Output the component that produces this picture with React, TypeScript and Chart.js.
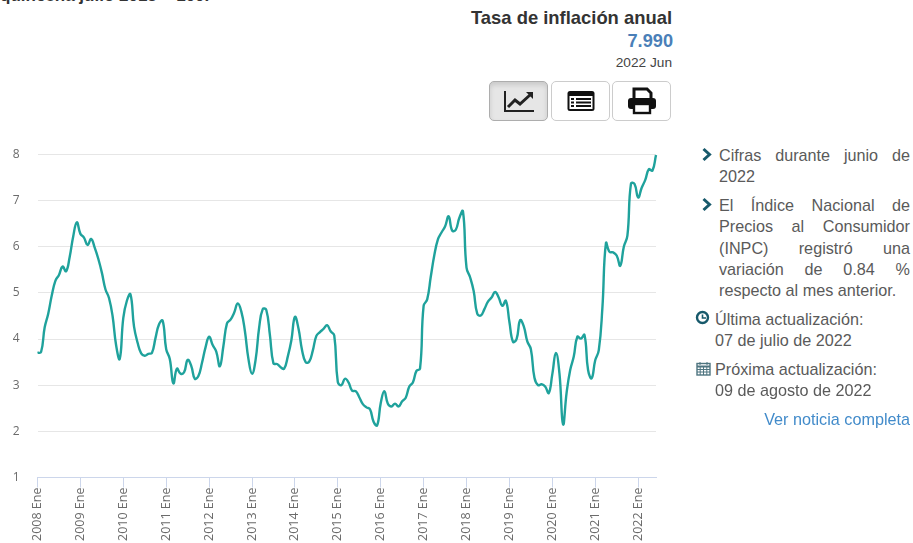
import React, { useEffect, useRef } from "react";
import { Chart, registerables } from "chart.js";

Chart.register(...registerables);

const years = [2008, 2009, 2010, 2011, 2012, 2013, 2014, 2015, 2016, 2017, 2018, 2019, 2020, 2021, 2022];
const y2008 = [3.7, 3.72, 4.25, 4.55, 4.95, 5.26, 5.39, 5.57, 5.47, 5.78, 6.23, 6.53];
const y2009 = [6.28, 6.2, 6.04, 6.17, 5.98, 5.74, 5.44, 5.08, 4.89, 4.5, 3.86, 3.57];
const y2010 = [4.46, 4.83, 4.97, 4.27, 3.92, 3.69, 3.64, 3.68, 3.7, 4.02, 4.32, 4.4];
const y2011 = [3.78, 3.57, 3.04, 3.36, 3.25, 3.28, 3.55, 3.42, 3.14, 3.2, 3.48, 3.82];
const y2012 = [4.05, 3.87, 3.73, 3.41, 3.85, 4.34, 4.42, 4.57, 4.77, 4.6, 4.18, 3.57];
const y2013 = [3.25, 3.55, 4.25, 4.65, 4.63, 4.09, 3.47, 3.46, 3.39, 3.36, 3.62, 3.97];
const y2014 = [4.48, 4.23, 3.76, 3.5, 3.51, 3.75, 4.07, 4.15, 4.22, 4.3, 4.17, 4.08];
const y2015 = [3.07, 3.0, 3.14, 3.06, 2.88, 2.87, 2.74, 2.59, 2.52, 2.48, 2.21, 2.13];
const y2016 = [2.61, 2.87, 2.6, 2.54, 2.6, 2.54, 2.65, 2.73, 2.97, 3.06, 3.31, 3.36];
const y2017 = [4.72, 4.86, 5.35, 5.82, 6.16, 6.31, 6.44, 6.66, 6.35, 6.37, 6.63, 6.77];
const y2018 = [5.55, 5.34, 5.04, 4.55, 4.51, 4.65, 4.81, 4.9, 5.02, 4.9, 4.72, 4.83];
const y2019 = [4.37, 3.94, 4.0, 4.41, 4.28, 3.95, 3.78, 3.16, 3.0, 3.02, 2.97, 2.83];
const y2020 = [3.24, 3.7, 3.25, 2.15, 2.84, 3.33, 3.62, 4.05, 4.01, 4.09, 3.33, 3.15];
const y2021 = [3.54, 3.76, 4.67, 6.08, 5.89, 5.88, 5.81, 5.59, 6.0, 6.24, 7.37, 7.36];
const y2022 = [7.07, 7.28, 7.45, 7.68, 7.65, 7.99];

const values = [
  ...y2008, ...y2009, ...y2010, ...y2011, ...y2012, ...y2013, ...y2014, ...y2015,
  ...y2016, ...y2017, ...y2018, ...y2019, ...y2020, ...y2021, ...y2022,
];
const months = ["Ene", "Feb", "Mar", "Abr", "May", "Jun", "Jul", "Ago", "Sep", "Oct", "Nov", "Dic"];
const labels = values.map((_, i) => `${years[Math.floor(i / 12)]} ${months[i % 12]}`);

const FONT = '"Liberation Sans", Arial, sans-serif';
const TEXT = "#5a5a5a";
const TEAL = "#1fa29c";

const abs = (left: number, top: number, extra: React.CSSProperties = {}): React.CSSProperties => ({
  position: "absolute",
  left,
  top,
  ...extra,
});

function Chevron({ x, y }: { x: number; y: number }) {
  return (
    <svg style={abs(x, y)} width="12" height="15" viewBox="0 0 12 15">
      <path d="M2.5 2 L8.5 7.5 L2.5 13" fill="none" stroke="#17596b" strokeWidth="3" />
    </svg>
  );
}

function Para({ top, lines, left = 719, width = 191, justify = true }: { top: number; lines: string[]; left?: number; width?: number; justify?: boolean }) {
  return (
    <>
      {lines.map((l, i) => {
        const j = justify && i < lines.length - 1;
        return (
          <div
            key={i}
            style={abs(left, top + i * 21.3, {
              width,
              font: `16.2px ${FONT}`,
              color: TEXT,
              lineHeight: "20px",
              textAlign: j ? "justify" : "left",
              textAlignLast: j ? "justify" : "left",
              whiteSpace: j ? "normal" : "nowrap",
            })}
          >
            {l}
          </div>
        );
      })}
    </>
  );
}

function Btn({ left, active, children }: { left: number; active?: boolean; children: React.ReactNode }) {
  return (
    <div
      style={abs(left, 81, {
        width: 59,
        height: 40,
        boxSizing: "border-box",
        border: `1px solid ${active ? "#adadad" : "#cccccc"}`,
        borderRadius: 5,
        background: active ? "#e6e6e6" : "#ffffff",
        boxShadow: active ? "inset 0 3px 5px rgba(0,0,0,.125)" : "none",
        display: "flex",
        alignItems: "center",
        justifyContent: "center",
      })}
    >
      {children}
    </div>
  );
}

export default function App() {
  const ref = useRef<HTMLCanvasElement>(null);
  useEffect(() => {
    const chart = new Chart(ref.current!, {
      type: "line",
      data: {
        labels,
        datasets: [
          {
            data: values,
            borderColor: TEAL,
            borderWidth: 2.4,
            pointRadius: 0,
            tension: 0.45,
            fill: false,
            clip: false,
          },
        ],
      },
      options: {
        animation: false,
        responsive: false,
        layout: { padding: { top: 14.5, right: 14, left: 0, bottom: 0 } },
        plugins: { legend: { display: false }, tooltip: { enabled: false } },
        scales: {
          x: {
            type: "category",
            afterBuildTicks: (axis: any) => {
              axis.ticks = axis.ticks.filter((t: any) => t.value % 12 === 0);
            },
            afterFit: (axis: any) => {
              axis.height = 65.5;
            },
            grid: {
              display: true,
              drawOnChartArea: false,
              drawTicks: true,
              tickLength: 10,
              color: "#ccd6eb",
              lineWidth: 1,
            },
            border: { display: true, color: "#ccd6eb", width: 1 },
            ticks: {
              autoSkip: false,
              minRotation: 90,
              maxRotation: 90,
              padding: 0,
              color: "#6b6b6b",
              font: { family: '"Open Sans"', size: 12.5 },
            },
          },
          y: {
            min: 1,
            max: 8,
            afterFit: (axis: any) => {
              axis.width = 37.5;
              axis.paddingTop = 0;
              axis.paddingBottom = 0;
            },
            grid: { color: (c: any) => (c.tick.value === 1 ? "rgba(0,0,0,0)" : "#e6e6e6"), lineWidth: 1, drawTicks: false },
            border: { display: false },
            ticks: {
              stepSize: 1,
              padding: 18,
              color: "#6b6b6b",
              font: { family: '"Open Sans"', size: 12 },
              callback: (v: any) => String(v),
            },
          },
        },
      },
    });
    return () => chart.destroy();
  }, []);

  return (
    <div style={{ position: "fixed", inset: 0, overflow: "hidden", background: "#fff" }}>
      <div style={abs(0, -14, { font: `bold 17px ${FONT}`, color: "#333", whiteSpace: "nowrap" })}>
        quincena julio 2018 = 100.
      </div>

      <div style={abs(372, 8, { width: 300, textAlign: "right", font: `bold 18.4px ${FONT}`, lineHeight: "20px", color: "#333" })}>
        Tasa de inflación anual
      </div>
      <div style={abs(372, 31, { width: 301, textAlign: "right", font: `bold 18.2px ${FONT}`, lineHeight: "20px", color: "#4a7fb8" })}>
        7.990
      </div>
      <div style={abs(372, 53, { width: 300, textAlign: "right", font: `13.7px ${FONT}`, lineHeight: "20px", color: "#444" })}>
        2022 Jun
      </div>

      <Btn left={489} active>
        <svg width="32" height="24" viewBox="0 0 32 24">
          <path d="M2 2 V22 H31" fill="none" stroke="#222" strokeWidth="2" />
          <path d="M5 18 L12 11 L17 15 L27 6" fill="none" stroke="#222" strokeWidth="3" />
          <path d="M23 3 H30 V10 Z" fill="#222" />
        </svg>
      </Btn>
      <Btn left={551}>
        <svg width="28" height="22" viewBox="0 0 28 22">
          <rect x="0.5" y="1" width="27" height="20" rx="2.5" fill="#111" />
          <rect x="2.5" y="6" width="23" height="13" fill="#fff" />
          <path d="M4 9 H7 M9 9 H24 M4 12.5 H7 M9 12.5 H24 M4 16 H7 M9 16 H24" stroke="#111" strokeWidth="2" />
        </svg>
      </Btn>
      <Btn left={612}>
        <svg width="30" height="28" viewBox="0 0 30 28">
          <path d="M7 12 V2 H20 L24 6 V12" fill="#fff" stroke="#111" strokeWidth="3" />
          <rect x="1" y="11" width="28" height="11" rx="3" fill="#111" />
          <rect x="7" y="17" width="16" height="9" fill="#fff" stroke="#111" strokeWidth="2.4" />
        </svg>
      </Btn>

      <canvas ref={ref} width={670} height={403} style={abs(0, 140, { display: "block" })} />

      <Chevron x={701} y={147} />
      <Para top={145} lines={["Cifras durante junio de", "2022"]} />
      <Chevron x={701} y={197} />
      <Para
        top={195}
        lines={["El Índice Nacional de", "Precios al Consumidor", "(INPC) registró una", "variación de 0.84 %", "respecto al mes anterior."]}
      />
      <svg style={abs(694.5, 309.5)} width="15" height="15" viewBox="0 0 15 15">
        <circle cx="7.5" cy="7.5" r="5.5" fill="none" stroke="#17596b" strokeWidth="2.4" />
        <path d="M7.5 4.5 V8 H11" fill="none" stroke="#17596b" strokeWidth="1.6" />
      </svg>
      <Para top={309} left={715} width={190} justify={false} lines={["Última actualización:", "07 de julio de 2022"]} />
      <svg style={abs(696, 361)} width="15" height="15" viewBox="0 0 15 15">
        <rect x="1" y="2.5" width="13" height="11.5" fill="none" stroke="#4f7580" strokeWidth="1.4" />
        <path d="M1 5.5 H14" stroke="#4f7580" strokeWidth="2" />
        <path d="M4 1 V4 M11 1 V4 M1 8.5 H14 M1 11 H14 M4.2 6 V14 M7.5 6 V14 M10.8 6 V14" stroke="#4f7580" strokeWidth="1" />
      </svg>
      <Para top={359} left={715} width={190} justify={false} lines={["Próxima actualización:", "09 de agosto de 2022"]} />
      <div style={abs(660, 409, { width: 250, textAlign: "right", font: `16.2px ${FONT}`, color: "#428bca", lineHeight: "20px" })}>
        Ver noticia completa
      </div>
    </div>
  );
}
